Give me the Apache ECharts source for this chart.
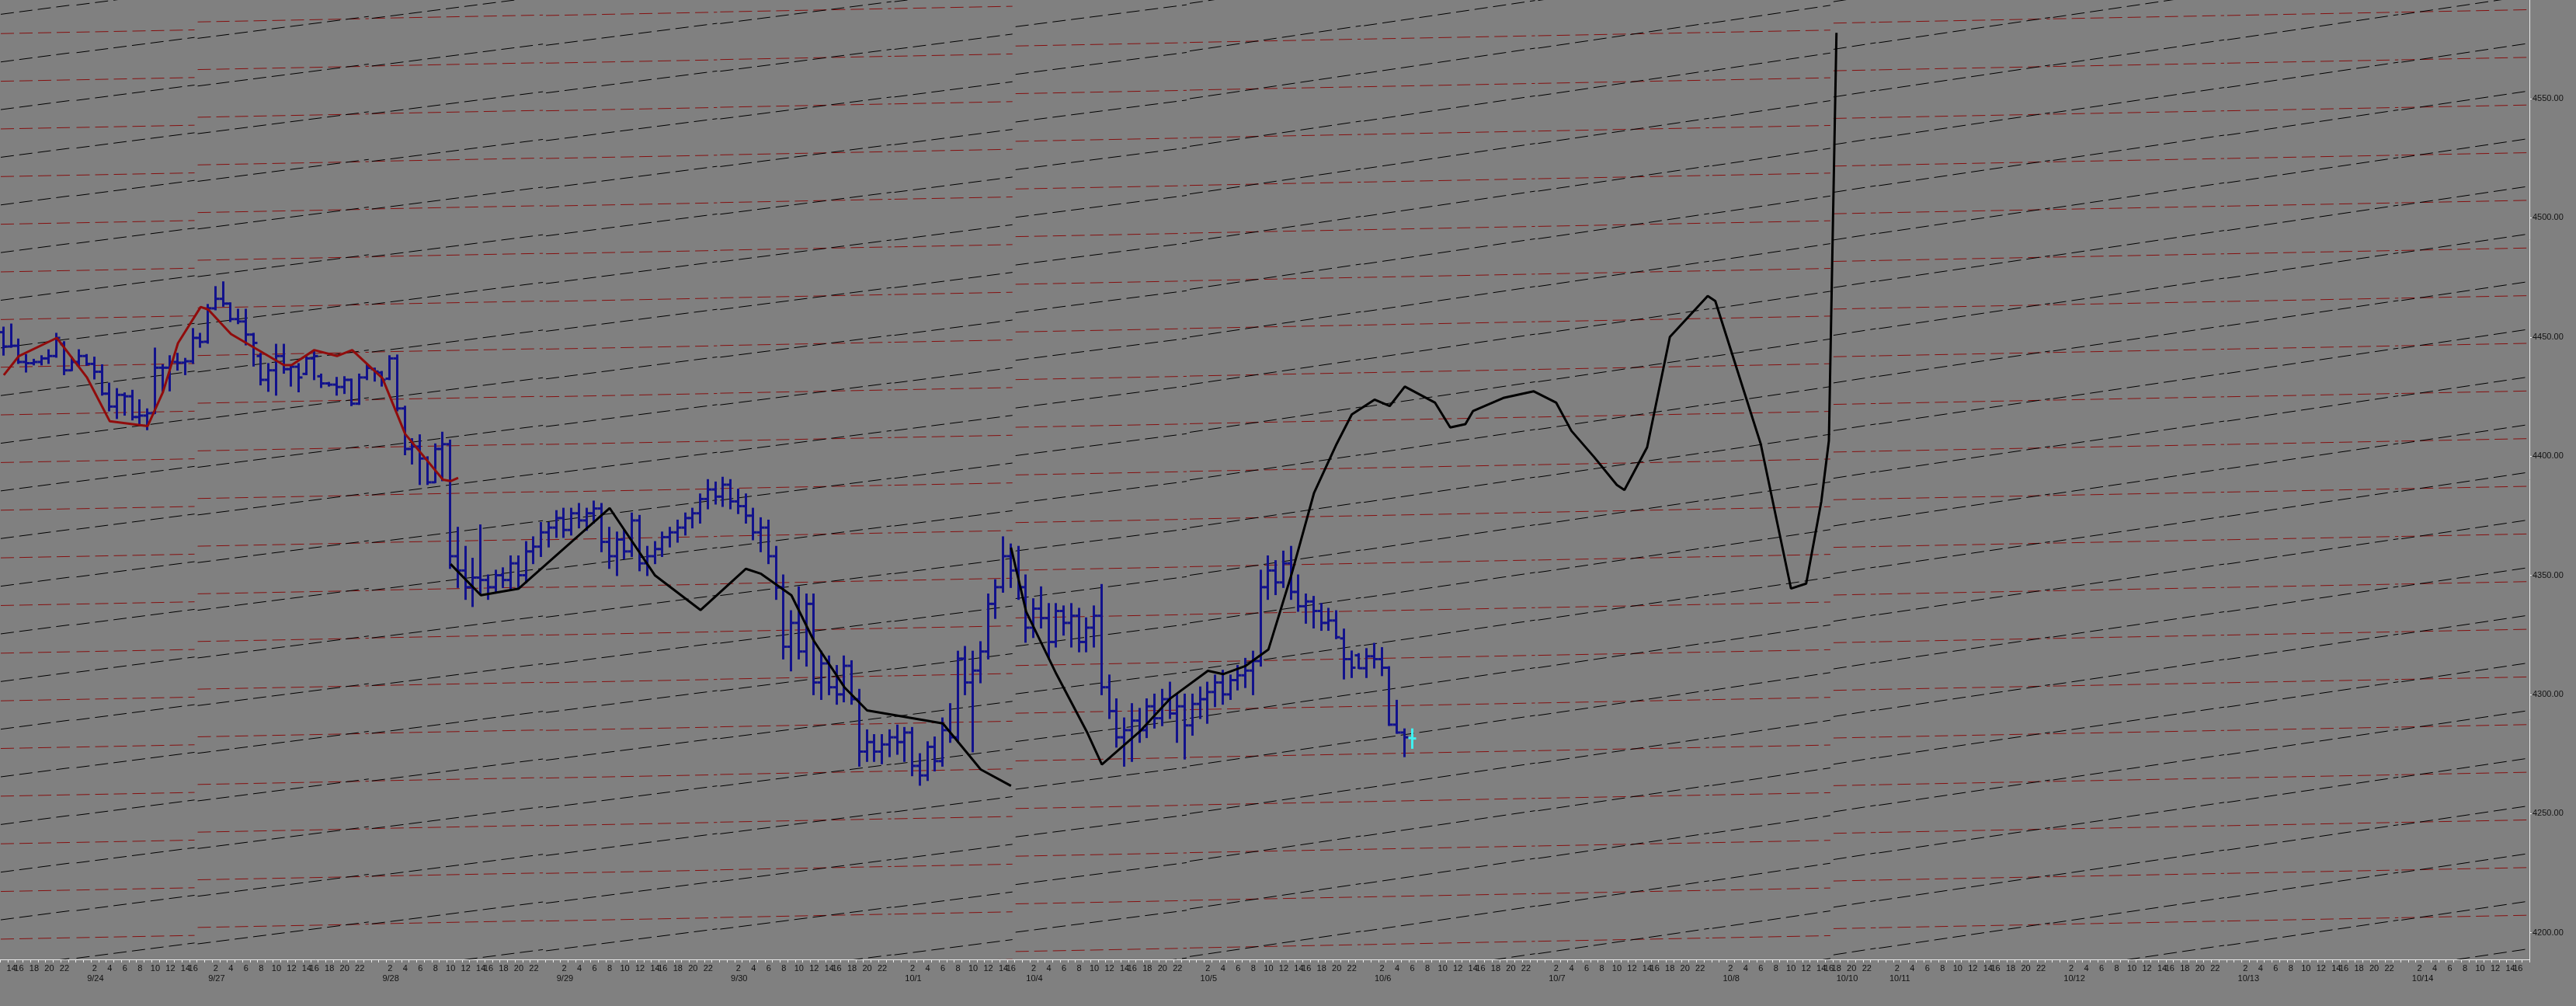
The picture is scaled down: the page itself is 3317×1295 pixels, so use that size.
<!DOCTYPE html>
<html><head><meta charset="utf-8">
<script src="https://cdn.jsdelivr.net/npm/echarts/dist/echarts.min.js"></script>
<style>html,body{margin:0;padding:0;background:#808080;}#c{width:3317px;height:1295px;}</style>
</head><body><div id="c"></div>
<script>
// ---- time axis (hourly bars) ----
const FULL = [0,1,2,3,4,5,6,7,8,9,10,11,12,13,14,16,17,18,19,20,21,22,23];
const FRI = [0,1,2,3,4,5,6,7,8,9,10,11,12,13,14,16];
const SUN = [18,19,20,21,22,23];
const FIRST = [13,14,16,17,18,19,20,21,22,23];
const LAST = [0,1,2,3,4,5,6,7,8,9,10,11,12,13,14,16,17];
const dayDates = ['9/23','9/24','9/27','9/28','9/29','9/30','10/1','10/4','10/5','10/6','10/7','10/8','10/10','10/11','10/12','10/13','10/14'];
const dayHours = [FIRST,FRI,FULL,FULL,FULL,FULL,FRI,FULL,FULL,FULL,FULL,FRI,SUN,FULL,FULL,FULL,LAST];

// ---- y-axis ----
const yMin = 4188.8, yMax = 4591.4;
const yLabelStep = 50;
const lastPrice = 4281.5;

// ---- OHLC bars (index 0 .. 185) ----
const barOpen = [4452,4446,4446.3,4439.5,4439,4439.5,4441,4442,4447,4436,4439.5,4442,4438.7,4435.4,4426.2,4420.8,4425.7,4425.1,4416.4,4417,4418,4437.1,4437.1,4439.5,4439.2,4439.8,4449.6,4448,4462,4466,4464,4457.5,4456.5,4451,4442,4432,4436,4442,4436.5,4437.5,4434.5,4441,4433.5,4430.5,4430,4429,4432,4422,4433,4436.5,4435,4432.5,4441,4420,4403,4404,4399,4389,4403,4405,
4358,4352,4345,4349,4348,4345,4350,4348,4355,4350,4360,4362,4368,4370,4374,4369,4376,4373,4376,4378,4364,4358,4365,4360,4373,4355,4358,4361,4366,4368,4370,4374,4376,4382,4386,4383,4388,4381,4379,4375,4368,4370,4358,4345,4320,4330,4318,4338,4305,4313,4303,4300,4312,4298,4276,4280,4276,4279,4282,4280,4284,4270,4266,4278,4272,4285,4282,4315,4305,4310,4318,4338,4345,4358,
4352,4345,4328,4336,4332,4322,4335,4330,4333,4322,4328,4333,4303,4293,4282,4285,4289,4285,4295,4290,4298,4292,4295,
4287,4296,4298,4301,4305,4300,4306,4308,4310,4314,4345,4352,4347,4355,4343,4337,4339,4335,4330,4331,4323.5,4314.8,4316.4,4311,4316,4314.8,4311.2,4287.3,4284];
const barHigh = [4454,4455.3,4449,4442.5,4440.5,4442,4444.5,4451.4,4447.9,4441.4,4444.5,4442.5,4441.4,4438.2,4430.5,4428.2,4426.4,4427.5,4423.5,4419.7,4445.2,4438.2,4442,4443,4440.9,4453.4,4451.4,4463.5,4471,4473,4464.2,4461.5,4461.5,4451.4,4443,4438.7,4446.8,4446.8,4438.2,4438.7,4441.6,4444.1,4434.3,4430.8,4432.9,4433.2,4432.2,4434.3,4438.4,4436.8,4435.4,4442,4442.3,4420.8,4407.2,4408.8,4399.6,4405,4409.9,4406.6,
4370,4362,4357,4371,4350,4352,4353,4358,4358,4364,4366,4372,4372,4377,4378,4378,4380,4378,4381,4380,4370,4368,4369,4376,4375,4362,4364,4368,4370,4373,4376,4378,4384,4390,4389,4391,4390,4386,4384,4378,4374,4373,4362,4350,4335,4345,4342,4342,4318,4316,4312,4316,4314,4302,4285,4283,4283,4285,4287,4286,4286,4275,4280,4282,4290,4296,4318,4320,4318,4322,4342,4348,4366,4363,
4362,4350,4340,4345,4338,4338,4337,4338,4336,4332,4337,4346,4308,4298,4290,4296,4294,4298,4300,4302,4305,4300,4300,
4300,4303,4305,4308,4310,4308,4312,4315,4318,4352,4358,4356,4360,4362,4350,4342,4341,4338,4336,4335,4327.3,4318.1,4317,4319.1,4321.3,4319.5,4311.5,4297.4,4285.4];
const barLow = [4442.5,4445.8,4439,4435.4,4438.4,4438.4,4439,4441.6,4434.3,4436,4437.6,4438.2,4432.5,4425.7,4419.1,4415.9,4417.3,4415.3,4413.2,4411.2,4418,4427.3,4427.5,4436.2,4434.3,4439,4445.8,4447.5,4461.5,4463,4456.6,4455.7,4446.8,4437.9,4430,4427.3,4425.7,4434.9,4429.5,4427.1,4434.3,4432.2,4428.9,4429.5,4425.7,4426.4,4421.3,4421.8,4432.2,4431.6,4429.5,4432.2,4419.1,4400.7,4396.8,4388.2,4388.2,4389,4389.8,4353,
4345,4340,4337,4342,4340,4343,4345,4344,4345,4347,4355,4358,4362,4366,4366,4367,4370,4369,4372,4360,4353,4350,4357,4358,4352,4350,4355,4358,4362,4364,4367,4370,4372,4378,4380,4379,4378,4376,4372,4365,4360,4355,4340,4315,4310,4315,4312,4300,4298,4300,4296,4297,4296,4270,4272,4272,4271,4274,4275,4272,4266,4262,4264,4268,4270,4280,4280,4300,4276,4305,4315,4332,4343,4345,
4340,4322,4324,4328,4315,4320,4325,4320,4318,4318,4320,4300,4290,4278,4270,4272,4280,4282,4286,4287,4290,4280,4273,
4283,4290,4288,4295,4296,4298,4302,4303,4300,4312,4340,4342,4345,4340,4335,4330,4328,4327,4327,4323.5,4306.6,4307.2,4311,4307.2,4311.2,4308,4287.1,4283.8,4274];
const barClose = [4446,4446.3,4439.5,4439,4439.5,4441,4442,4449.6,4436,4439.5,4442,4438.7,4435.4,4426.2,4420.8,4425.7,4425.1,4416.4,4417,4418,4437.1,4437.1,4439.5,4439.2,4439.8,4449.6,4447.9,4462,4466,4464,4457.5,4456.5,4451,4447.5,4432,4436,4442,4436.5,4437.5,4433,4441,4442,4430.5,4430,4429,4432,4422,4433,4437,4435.5,4432,4441,4420,4403,4404,4399,4389,4403,4405,4358,
4352,4345,4349,4348,4345,4350,4348,4355,4350,4360,4362,4368,4370,4374,4369,4376,4373,4376,4378,4364,4358,4365,4360,4373,4355,4358,4361,4366,4368,4370,4374,4376,4382,4386,4383,4388,4381,4379,4375,4368,4370,4358,4345,4320,4330,4318,4338,4305,4313,4303,4300,4312,4298,4276,4280,4276,4279,4282,4280,4284,4270,4266,4278,4272,4285,4282,4315,4305,4310,4318,4338,4345,4358,4352,
4345,4328,4336,4332,4322,4335,4330,4333,4322,4328,4333,4303,4293,4282,4285,4289,4285,4295,4290,4298,4292,4295,4287,
4296,4298,4301,4305,4300,4306,4308,4310,4314,4345,4352,4347,4355,4343,4337,4339,4335,4330,4331,4324,4314.8,4311.2,4311,4316,4314.8,4311.2,4287.3,4284,4282];
// last (current) bar
const lastBarIndex = 186;
const lastBar = [4281.7, 4285.4, 4277.5, 4281.5]; // O H L C

// ---- lines [bar index, price] ----
const redLine = [[0,4434],[2,4442],[7,4449.6],[11,4432.9],[14,4414.6],[19,4412.6],[21,4426.7],[23,4447.4],[26,4462.6],[27,4461.5],[30,4451.2],[37,4438.2],[38,4438.2],[41,4444.5],[44,4442],[46,4444.5],[50,4432.7],[53,4409.3],[58,4390.1],[59,4389.5],[60,4390.9]];
const blackLine1 = [[59,4354.7],[63,4341.6],[68,4344.4],[80,4378.2],[86,4349.9],[92,4335.4],[98,4352.7],[100,4350.6],[104,4341.6],[107,4322.3],[111,4303],[114,4293.3],[124,4287.8],[129,4268.5],[133,4261.6]];
const blackLine2 = [[133,4361.6],[135,4334.7],[139,4308.5],[143,4284.4],[145,4270.6],[150,4284.4],[154,4298.2],[159,4309.9],[161,4308.5],[164,4312],[167,4318.9],[170,4349.9],[173,4384.4],[176,4405.1],[178,4417.5],[181,4423.7],[183,4421],[185,4429.2],[189,4422.4],[191,4412],[193,4413.4],[194,4418.9],[198,4424.4],[202,4427.2],[205,4422.4],[207,4410.6],[210,4399.6],[213,4387.9],[214,4385.8],[217,4403.7],[220,4450],[225,4467.2],[226,4465.1],[232,4405.1],[236,4344.4],[238,4346.5],[240,4381],[241,4406.5],[242,4577.6]];

// ---- background fan lines: offset (mod 20) at start of each day, rise per bar ----
const fanStep = 20;
const redBase = [17.3,17.9,2.2,3.7,4.9,6.4,7.8,12.1,13.6,15.0,16.4,17.8,1.7,2.1,3.5,4.9,6.3];
const redSlope = [0.06,0.06,0.06,0.06,0.06,0.06,0.06,0.06,0.06,0.06,0.06,0.06,0.06,0.06,0.06,0.06,0.06];
const blackBase = [5.4,9.3,15.3,3.7,12.4,1.5,10.7,0.2,10.0,0.6,11.2,1.8,10.7,13.5,4.1,14.7,5.3];
const blackSlope = [0.4,0.4,0.4,0.4,0.4,0.4,0.4,0.4,0.46,0.46,0.46,0.46,0.46,0.46,0.46,0.46,0.46];

// ---- build categories ----
const cats = [], hours = [], dates = [], dayStart = [], dayEnd = [];
dayDates.forEach((d, k) => {
  dayStart.push(cats.length);
  dayHours[k].forEach(h => { cats.push(d + ' ' + h); hours.push(h); dates.push(d); });
  dayEnd.push(cats.length - 1);
});
function dateLabelAt(i) {
  const h = hours[i];
  if (h === 1) return dates[i];
  if (i > 0 && dates[i - 1] !== dates[i] && h === 18) return dates[i];
  return '';
}

const ohlc = barOpen.map((o, i) => [i, o, barHigh[i], barLow[i], barClose[i]]);
const lastOhlc = [[lastBarIndex, lastBar[0], lastBar[1], lastBar[2], lastBar[3]]];

function buildFan(bases, slopes) {
  const out = [];
  dayDates.forEach((d, k) => {
    const i0 = dayStart[k], i1 = dayEnd[k], n = i1 - i0 + 1;
    const b = bases[k], s = slopes[k];
    let v = Math.floor((yMin - 40 - b) / fanStep) * fanStep + b;
    for (; v < yMax + fanStep; v += fanStep) out.push([i0, i1, v, v + s * n]);
  });
  return out;
}
const redFan = buildFan(redBase, redSlope);
const blackFan = buildFan(blackBase, blackSlope);

function fanRender(color) {
  return function (params, api) {
    const bw = api.size([1, 0])[0];
    const p0 = api.coord([api.value(0), api.value(2)]);
    const p1 = api.coord([api.value(1), api.value(3)]);
    return {
      type: 'line',
      shape: { x1: p0[0] - bw / 2 + 1, y1: p0[1], x2: p1[0] + bw / 2 - 3, y2: p1[1] },
      style: { stroke: color, lineWidth: 1, lineDash: [17, 7] },
      silent: true
    };
  };
}
function ohlcRender(color) {
  return function (params, api) {
    const x = api.value(0);
    const o = api.coord([x, api.value(1)]);
    const h = api.coord([x, api.value(2)]);
    const l = api.coord([x, api.value(3)]);
    const c = api.coord([x, api.value(4)]);
    const cx = Math.round(o[0]) - 0.5;
    const st = { stroke: color, lineWidth: 3 };
    return {
      type: 'group', children: [
        { type: 'line', shape: { x1: cx, y1: h[1] - 1, x2: cx, y2: l[1] + 1 }, style: st },
        { type: 'line', shape: { x1: cx - 5, y1: o[1], x2: cx, y2: o[1] }, style: st },
        { type: 'line', shape: { x1: cx, y1: c[1], x2: cx + 5, y2: c[1] }, style: st }
      ]
    };
  };
}

const FONT = 'Liberation Sans';
const chart = echarts.init(document.getElementById('c'), null, { renderer: 'canvas' });
chart.setOption({
  animation: false,
  backgroundColor: '#808080',
  grid: { left: -3, right: 60, top: 0, bottom: 60, containLabel: false },
  xAxis: [{
    type: 'category', data: cats, boundaryGap: true, position: 'bottom',
    axisLine: { show: true, lineStyle: { color: '#e8e8e8', width: 1 } },
    axisTick: { show: true, interval: 0, length: 4, lineStyle: { color: '#e8e8e8' } },
    axisLabel: {
      interval: 0, margin: 6, color: '#111', fontFamily: FONT, fontSize: 11,
      formatter: (v, i) => { const h = hours[i]; return (h % 2 === 0 && h !== 0) ? String(h) : ''; }
    },
    splitLine: { show: false }
  }, {
    type: 'category', data: cats, boundaryGap: true, position: 'bottom', gridIndex: 0,
    axisLine: { show: false }, axisTick: { show: false },
    axisLabel: { interval: 0, margin: 19, align: 'left', color: '#111', fontFamily: FONT, fontSize: 11,
      formatter: (v, i) => dateLabelAt(i) },
    splitLine: { show: false }
  }],
  yAxis: {
    type: 'value', position: 'right', min: yMin, max: yMax, splitNumber: 8, scale: true,
    axisLine: { show: true, lineStyle: { color: '#e8e8e8', width: 1 } },
    axisTick: { show: true, length: 3, lineStyle: { color: '#e8e8e8' } },
    axisLabel: {
      show: true, margin: 4, color: '#111', fontFamily: FONT, fontSize: 11,
      showMinLabel: false, showMaxLabel: false,
      formatter: v => (Math.abs(v / yLabelStep - Math.round(v / yLabelStep)) < 1e-6) ? v.toFixed(2) : ''
    },
    splitLine: { show: false }
  },
  series: [
    { type: 'custom', name: 'redFan', data: redFan, renderItem: fanRender('#861010'), encode: { x: 0, y: 2 }, clip: true, silent: true, z: 1 },
    { type: 'custom', name: 'blackFan', data: blackFan, renderItem: fanRender('#000000'), encode: { x: 0, y: 2 }, clip: true, silent: true, z: 1 },
    { type: 'custom', name: 'bars', data: ohlc, renderItem: ohlcRender('#12128c'), encode: { x: 0, y: [1, 2, 3, 4] }, clip: true, z: 3 },
    { type: 'custom', name: 'last', data: lastOhlc, renderItem: ohlcRender('#40f0f0'), encode: { x: 0, y: [1, 2, 3, 4] }, clip: true, z: 3 },
    { type: 'line', name: 'red', data: redLine, symbol: 'none', smooth: false, z: 4,
      lineStyle: { color: '#900c0c', width: 3 },
      markLine: {
        silent: true, symbol: ['none', 'none'], animation: false,
        lineStyle: { opacity: 0 },
        data: [{ yAxis: lastPrice }],
        label: { show: true, position: 'end', distance: 1, formatter: () => lastPrice.toFixed(2),
          backgroundColor: '#ffff00', color: '#000', fontFamily: FONT, fontSize: 11,
          padding: [3, 2, 2, 2], borderColor: '#b8b8b8', borderWidth: 1 }
      }
    },
    { type: 'line', name: 'black1', data: blackLine1, symbol: 'none', smooth: false, z: 4, lineStyle: { color: '#000', width: 3 } },
    { type: 'line', name: 'black2', data: blackLine2, symbol: 'none', smooth: false, z: 4, lineStyle: { color: '#000', width: 3 } }
  ]
});
</script>
</body></html>
